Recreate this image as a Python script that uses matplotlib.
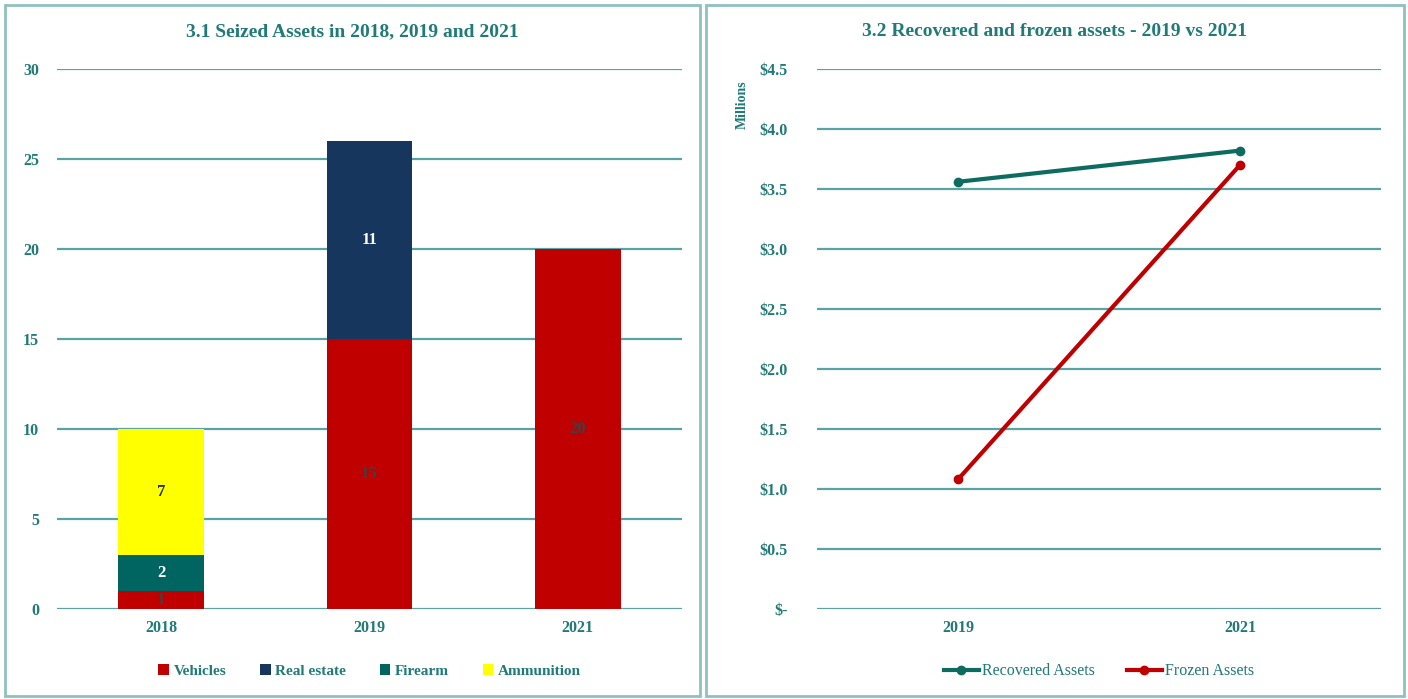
import matplotlib.pyplot as plt
import matplotlib.patches as patches
import numpy as np

plt.rcParams['font.family'] = ['Liberation Serif', 'DejaVu Serif']

# Seized assets (counts)
years_seized = ['2018', '2019', '2021']
vehicles = [1, 15, 20]
real_estate = [0, 11, 0]
firearm = [2, 0, 0]
ammunition = [7, 0, 0]

# Recovered / frozen assets (millions USD)
years_money = ['2019', '2021']
recovered = [3.56, 3.82]
frozen = [1.08, 3.70]

teal_text = '#1f7a78'
grid_col = '#5aa3a3'
red = '#c00000'
navy = '#17365d'
teal_bar = '#006461'
yellow = '#ffff00'
line_teal = '#0d6b5f'

W, H = 1408, 699
fig = plt.figure(figsize=(W / 100, H / 100), dpi=100)

# panel borders
for x0, x1 in [(5, 700), (706, 1404)]:
    fig.patches.append(patches.Rectangle((x0 / W, 1 - 696 / H), (x1 - x0) / W, (696 - 5) / H,
                                         transform=fig.transFigure, fill=False,
                                         edgecolor='#8fc1c0', linewidth=2))

def px_axes(x0, x1, ytop, ybot):
    return fig.add_axes([x0 / W, 1 - ybot / H, (x1 - x0) / W, (ybot - ytop) / H])

def style(ax):
    for s in ax.spines.values():
        s.set_visible(False)
    ax.yaxis.grid(True, color=grid_col, linewidth=1.6)
    ax.set_axisbelow(True)
    ax.tick_params(length=0, colors=teal_text, labelsize=11.5)
    for lab in ax.get_xticklabels() + ax.get_yticklabels():
        lab.set_fontweight('bold')

# ---- left chart: stacked bars
ax1 = px_axes(57, 682, 69, 609)
x = np.arange(len(years_seized))
w = 0.41
series = [('Vehicles', vehicles, red, '#404040'),
          ('Real estate', real_estate, navy, 'white'),
          ('Firearm', firearm, teal_bar, 'white'),
          ('Ammunition', ammunition, yellow, '#1f2f4f')]
bottom = np.zeros(len(x))
for name, vals, col, tcol in series:
    vals = np.array(vals, dtype=float)
    ax1.bar(x, vals, w, bottom=bottom, color=col, label=name, zorder=3)
    for xi, v, b in zip(x, vals, bottom):
        if v > 0:
            ax1.text(xi, b + v / 2, f'{int(v)}', ha='center', va='center',
                     color=tcol, fontsize=12, fontweight='bold', zorder=4)
    bottom += vals
ax1.set_xlim(-0.5, 2.5)
ax1.set_ylim(0, 30)
ax1.set_yticks(range(0, 31, 5))
ax1.set_xticks(x)
ax1.set_xticklabels(years_seized)
style(ax1)
ax1.tick_params(axis='y', pad=13)
ax1.tick_params(axis='x', pad=8)
fig.text(352 / W, 1 - 32 / H, '3.1 Seized Assets in 2018, 2019 and 2021', ha='center', va='center',
         color=teal_text, fontsize=14, fontweight='bold')
leg1 = ax1.legend(loc='center', bbox_to_anchor=(0.5, -0.115), ncol=4, frameon=False,
                  handlelength=0.7, handleheight=0.7, handletextpad=0.3, columnspacing=2.2,
                  prop={'weight': 'bold', 'size': 11})
for t in leg1.get_texts():
    t.set_color(teal_text)

# ---- right chart: lines
ax2 = px_axes(817, 1381, 69, 609)
xm = np.arange(len(years_money))
ax2.plot(xm, recovered, color=line_teal, linewidth=3, marker='o', markersize=6,
         label='Recovered Assets', zorder=3)
ax2.plot(xm, frozen, color=red, linewidth=3, marker='o', markersize=6,
         label='Frozen Assets', zorder=3)
ax2.set_xlim(-0.5, 1.5)
ax2.set_ylim(0, 4.5)
ax2.set_yticks(np.arange(0, 4.51, 0.5))
ax2.set_yticklabels(['$-'] + [f'${v:.1f}' for v in np.arange(0.5, 4.51, 0.5)])
ax2.set_xticks(xm)
ax2.set_xticklabels(years_money)
style(ax2)
ax2.tick_params(axis='y', pad=21)
ax2.tick_params(axis='x', pad=8)
fig.text(1054 / W, 1 - 32 / H, '3.2 Recovered and frozen assets - 2019 vs 2021', ha='center',
         va='center', color=teal_text, fontsize=14, fontweight='bold')
fig.text(742 / W, 1 - 105 / H, 'Millions', rotation=90, ha='center', va='center',
         color=teal_text, fontsize=10, fontweight='bold')
leg2 = ax2.legend(loc='center', bbox_to_anchor=(0.5, -0.115), ncol=2, frameon=False,
                  handlelength=2.2, handletextpad=0.2, columnspacing=2.0,
                  prop={'size': 11.5})
for t in leg2.get_texts():
    t.set_color(teal_text)

fig.savefig('out.png', dpi=100, facecolor='white')
